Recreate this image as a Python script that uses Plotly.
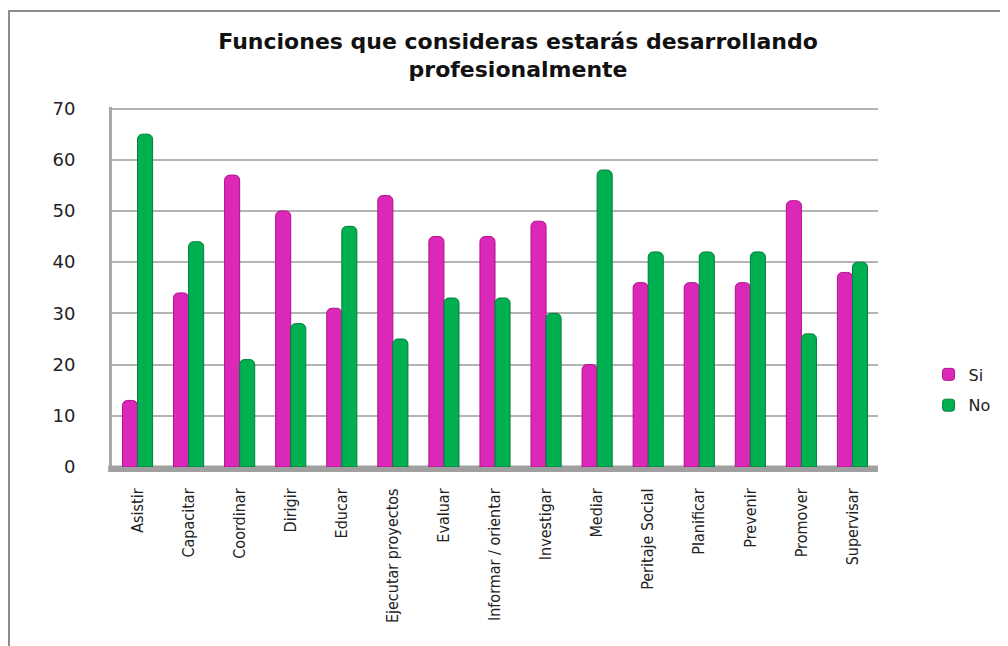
import plotly.graph_objects as go

categories = ["Asistir", "Capacitar", "Coordinar", "Dirigir", "Educar",
              "Ejecutar proyectos", "Evaluar", "Informar / orientar", "Investigar",
              "Mediar", "Peritaje Social", "Planificar", "Prevenir", "Promover", "Supervisar"]
si_values = [13, 34, 57, 50, 31, 53, 45, 45, 48, 20, 36, 36, 36, 52, 38]
no_values = [65, 44, 21, 28, 47, 25, 33, 33, 30, 58, 42, 42, 42, 26, 40]
y_ticks = [0, 10, 20, 30, 40, 50, 60, 70]

PINK = "#DC28B8"
GREEN = "#00B050"

fig = go.Figure()
fig.add_trace(go.Bar(name="Si", x=categories, y=si_values, legendgroup="si",
                     marker=dict(color=PINK, cornerradius=5,
                                 line=dict(color="#B0108C", width=1))))
fig.add_trace(go.Bar(name="No", x=categories, y=no_values, legendgroup="no",
                     marker=dict(color=GREEN, cornerradius=5,
                                 line=dict(color="#008038", width=1))))

fig.update_layout(
    width=1008, height=646,
    margin=dict(l=104, r=138, t=99, b=187),
    paper_bgcolor="white", plot_bgcolor="white",
    barmode="group", bargap=0.41, bargroupgap=0.0,
    title=dict(text="<b>Funciones que consideras estarás desarrollando<br>profesionalmente</b>",
               x=0.506, xanchor="center", y=0.937, yanchor="middle",
               font=dict(family="DejaVu Sans, sans-serif", size=22, color="#111111")),
    legend=dict(x=1.066, xanchor="left", y=0.214, yanchor="middle",
                font=dict(family="DejaVu Sans, Verdana, sans-serif", size=16, color="#222222"),
                itemwidth=30, tracegroupgap=7, bgcolor="rgba(0,0,0,0)"),
    showlegend=True,
    xaxis=dict(tickangle=-90, showgrid=False, showline=False, zeroline=False,
               ticks="outside", ticklen=14, tickcolor="rgba(0,0,0,0)",
               tickfont=dict(family="Liberation Sans Narrow, DejaVu Sans Condensed, sans-serif",
                             size=16, color="#222222"),
               range=[-0.5, 14.5]),
    yaxis=dict(range=[0, 70.3], tickvals=y_ticks, showgrid=True, gridcolor="#B4B4B4", gridwidth=2,
               zeroline=False, showline=True, linecolor="#A8A8A8", linewidth=3,
               ticks="outside", ticklen=30, tickcolor="rgba(0,0,0,0)",
               tickfont=dict(family="DejaVu Sans, Verdana, sans-serif", size=18, color="#222222")),
    shapes=[
        # outer chart border
        dict(type="rect", xref="paper", yref="paper",
             x0=-0.1345, x1=1.3, y0=-0.6, y1=1.267,
             line=dict(color="#8C8C8C", width=2), fillcolor="rgba(0,0,0,0)", layer="below"),
        # floor
        dict(type="rect", xref="paper", yref="paper",
             x0=-0.005, x1=1.0, y0=-0.014, y1=0.004,
             line=dict(width=0), fillcolor="#A0A0A0", layer="below"),
    ],
)

fig.write_html("out.html")
